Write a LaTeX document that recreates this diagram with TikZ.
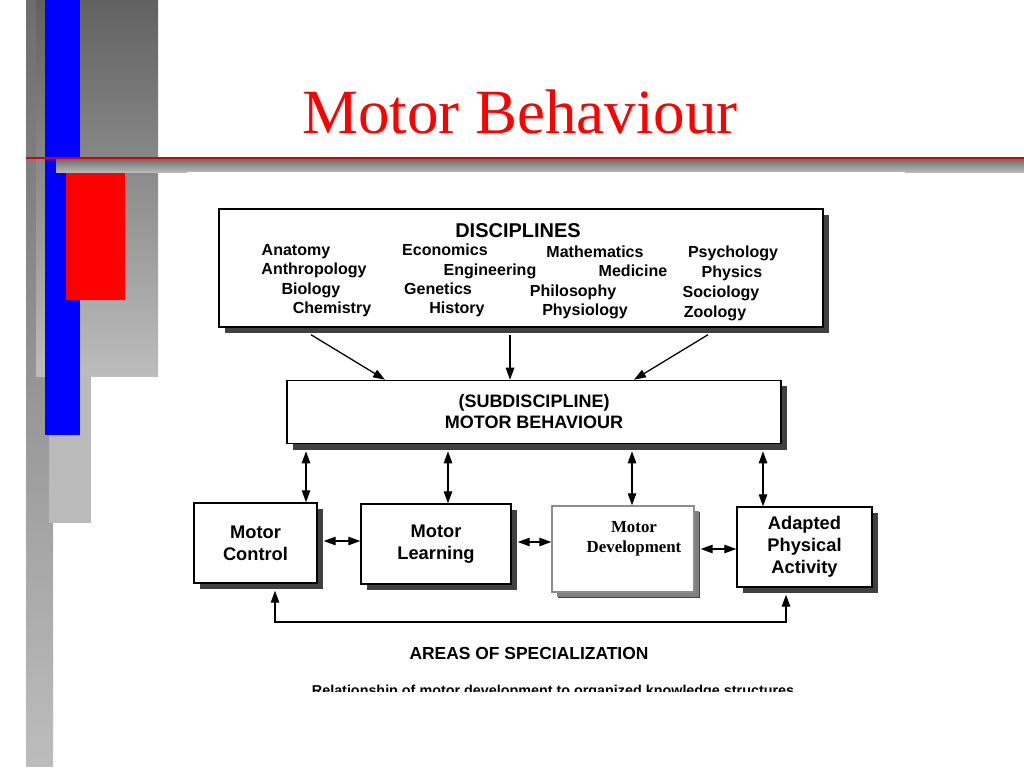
\documentclass[tikz,border=0pt]{standalone}
\usepackage{fontspec}
\setmainfont{Liberation Serif}
\newfontfamily\diagfont{Liberation Sans}
\usetikzlibrary{arrows.meta,calc,shadows}

\begin{document}
\begin{tikzpicture}[x=0.025cm,y=-0.025cm,>={Triangle[length=8.5pt,width=6pt]},
  box/.style={draw,line width=1pt,fill=white,inner sep=0pt,align=center,
    font=\diagfont\bfseries\fontsize{13}{15.5}\selectfont,
    drop shadow={shadow xshift=0.15cm,shadow yshift=-0.15cm,fill=black!75,opacity=1}},
  devbox/.style={box,draw=black!45,
    drop shadow={shadow xshift=0.12cm,shadow yshift=-0.12cm,fill=black!50,opacity=1}},
  item/.style={anchor=base,inner sep=0pt,font=\diagfont\bfseries\fontsize{11.4}{13}\selectfont},
  link/.style={line width=0.9pt}]

\useasboundingbox (0,0) rectangle (1024,768);

% slide decoration on the left
\shade[top color=black!57,bottom color=black!26] (26,0) rectangle (53,766);
\shade[top color=black!62,bottom color=black!26] (36,0) rectangle (158,376);
\fill[black!27] (49,376) rectangle (91,523);
\fill[blue] (45,0) rectangle (80,435);
\fill[red] (66,173) rectangle (125,300);

% title and rule
\shade[top color=black!55,bottom color=black!28] (56,160) rectangle (1024,172);
\draw[red!85!black,line width=1pt] (26,158) -- (1024,158);
\node[anchor=base,text=red,font=\fontsize{44.8}{50}\selectfont] (title) at (520,134) {Motor Behaviour};

\fill[white] (187,172) rectangle (905,690);

% disciplines
\node[box,minimum width=15.1cm,minimum height=2.95cm] (disc) at (521,268) {};
\node[anchor=base,font=\diagfont\bfseries\fontsize{14.2}{16}\selectfont] (disctitle) at (518,237) {DISCIPLINES};

\foreach \name/\xx/\yy [count=\i] in {Anatomy/296/255,Anthropology/314/274,Biology/311/294,Chemistry/332/313,
    Economics/445/255,Engineering/490/275,Genetics/438/294,History/457/313,
    Mathematics/595/257,Medicine/633/276,Philosophy/573/296,Physiology/585/315,
    Psychology/733/257,Physics/732/277,Sociology/721/297,Zoology/715/317}
  \node[item] (d\i) at (\xx,\yy) {\name};

% subdiscipline
\node[box,minimum width=12.35cm,minimum height=1.58cm,
  font=\diagfont\bfseries\fontsize{12.8}{15}\selectfont] (sub) at (534,412)
  {(SUBDISCIPLINE)\\MOTOR BEHAVIOUR};

\draw[link,->] ($(311,0 |- disc.south)+(0,7)$) -- (385,0 |- sub.north);
\draw[link,->] ($(510,0 |- disc.south)+(0,7)$) -- (510,0 |- sub.north);
\draw[link,->] ($(708,0 |- disc.south)+(0,7)$) -- (634,0 |- sub.north);

% areas of specialization
\node[box,minimum width=3.075cm,minimum height=2cm] (ctrl) at (255.5,543) {Motor\\Control};
\node[box,minimum width=3.75cm,minimum height=2cm] (learn) at (436,544) {Motor\\Learning};
\node[devbox,minimum width=3.55cm,minimum height=2.15cm] (dev) at (623,549) {};
\node[align=center,font=\bfseries\fontsize{12}{14.2}\selectfont] (devtxt) at (634,539) {Motor\\Development};
\node[box,minimum width=3.375cm,minimum height=2cm,
  font=\diagfont\bfseries\fontsize{13}{15.8}\selectfont] (apa) at (804.5,547) {Adapted\\Physical\\Activity};

\foreach \xx/\nd in {306/ctrl,448/learn,632/dev,763/apa}
  \draw[link,<->] ($(\xx,0 |- sub.south)+(0,7)$) -- (\xx,0 |- \nd.north);

\draw[link,<->] ($(ctrl.east)+(6,-2)$) -- ($(learn.west)+(0,-3)$);
\draw[link,<->] ($(learn.east)+(6,-2)$) -- ($(dev.west)+(0,-7)$);
\draw[link,<->] ($(dev.east)+(6,0)$) -- ($(apa.west)+(0,2)$);

\coordinate (fbl) at (275,622);
\coordinate (fbr) at (786,622);
\draw[link,<->] ($(275,0 |- ctrl.south)+(0,7)$) -- (fbl) -- (fbr) -- ($(786,0 |- apa.south)+(0,7)$);

\node[anchor=base,font=\diagfont\bfseries\fontsize{12.4}{15}\selectfont] (areas) at (529,659) {AREAS OF SPECIALIZATION};

% caption, cut off by the edge of the scan
\begin{scope}
\clip (187,600) rectangle (905,691);
\node[anchor=base,inner sep=0pt,font=\diagfont\bfseries\fontsize{10.2}{12}\selectfont] (caption) at (553,695)
  {Relationship of motor development to organized knowledge structures};
\end{scope}

\end{tikzpicture}
\end{document}
